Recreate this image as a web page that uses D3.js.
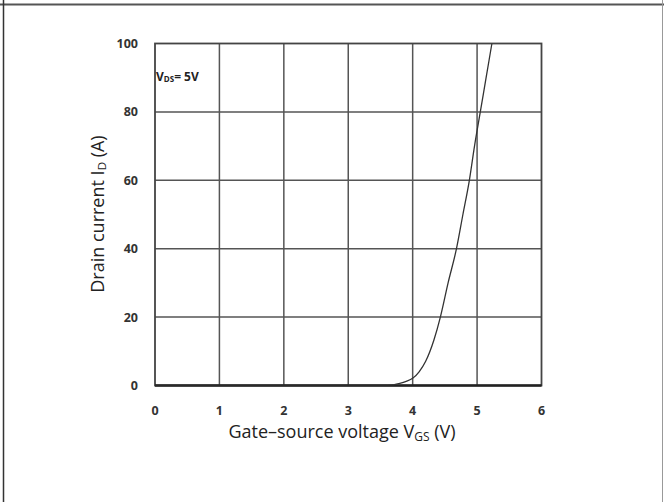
<!DOCTYPE html>
<html>
<head>
<meta charset="utf-8">
<script src="https://cdn.jsdelivr.net/npm/d3@7"></script>
<style>
  body { margin: 0; background: #fff; }
  svg { display: block; }
  text { font-family: "Open Sans", "Noto Sans", sans-serif; }
</style>
</head>
<body>
<div id="chart"></div>
<script>
// transfer characteristic
var vgs = [0, 1, 2, 3, 3.5, 3.6, 3.7, 3.8, 3.9, 4.0, 4.1, 4.2, 4.33, 4.43, 4.55, 4.68, 4.78, 4.88, 4.96, 5.05, 5.14, 5.23];
var idA = [0, 0, 0, 0, 0, 0.05, 0.2, 0.6, 1.2, 2.1, 4.0, 7.0, 13.3, 20, 30, 40, 50, 60, 70, 80, 90, 100];
var xTicks = [0, 1, 2, 3, 4, 5, 6];
var yTicks = [0, 20, 40, 60, 80, 100];

var w = 664, h = 502;
var svg = d3.select("#chart").append("svg").attr("width", w).attr("height", h);

// page frame
svg.append("line").attr("x1", 0).attr("x2", w).attr("y1", 4.5).attr("y2", 4.5)
    .attr("stroke", "#555").attr("stroke-width", 2);
svg.append("line").attr("x1", 3.5).attr("x2", 3.5).attr("y1", 0).attr("y2", h)
    .attr("stroke", "#333").attr("stroke-width", 1.5);
svg.append("line").attr("x1", 662.5).attr("x2", 662.5).attr("y1", 0).attr("y2", h)
    .attr("stroke", "#999").attr("stroke-width", 1);

var x = d3.scaleLinear().domain([0, 6]).range([155, 541.5]);
var y = d3.scaleLinear().domain([0, 100]).range([385.5, 43.5]);

var g = svg.append("g");

// grid
g.selectAll(".vg").data(xTicks.slice(1, -1)).join("line")
    .attr("x1", d => x(d)).attr("x2", d => x(d))
    .attr("y1", y(0)).attr("y2", y(100))
    .attr("stroke", "#555").attr("stroke-width", 1.5);
g.selectAll(".hg").data(yTicks.slice(1, -1)).join("line")
    .attr("x1", x(0)).attr("x2", x(6))
    .attr("y1", d => y(d)).attr("y2", d => y(d))
    .attr("stroke", "#555").attr("stroke-width", 1.5);

// box
g.append("rect").attr("x", x(0)).attr("y", y(100))
    .attr("width", x(6) - x(0)).attr("height", y(0) - y(100))
    .attr("fill", "none").attr("stroke", "#444").attr("stroke-width", 1.8);
g.append("line").attr("x1", x(0)).attr("x2", x(6)).attr("y1", y(0)).attr("y2", y(0))
    .attr("stroke", "#222").attr("stroke-width", 2.5);

// curve
svg.append("clipPath").attr("id", "clip").append("rect")
    .attr("x", x(0)).attr("y", y(100)).attr("width", x(6) - x(0)).attr("height", y(0) - y(100));
var line = d3.line().x((d, i) => x(vgs[i])).y(d => y(d)).curve(d3.curveMonotoneX);
g.append("path").datum(idA).attr("d", line).attr("clip-path", "url(#clip)")
    .attr("fill", "none").attr("stroke", "#333").attr("stroke-width", 1.3);

// tick labels
g.selectAll(".xl").data(xTicks).join("text")
    .attr("x", d => x(d)).attr("y", 415)
    .attr("text-anchor", "middle").attr("font-size", 12.5).attr("font-weight", "bold")
    .attr("fill", "#333").text(d => d);
g.selectAll(".yl").data(yTicks).join("text")
    .attr("x", 138).attr("y", d => y(d) + 4.5)
    .attr("text-anchor", "end").attr("font-size", 12.5).attr("font-weight", "bold")
    .attr("fill", "#333").text(d => d);

// axis titles
var xt = svg.append("text").attr("x", 342).attr("y", 438)
    .attr("text-anchor", "middle").attr("font-size", 18).attr("fill", "#222");
xt.append("tspan").text("Gate\u2013source voltage V");
xt.append("tspan").attr("font-size", 12).attr("dy", 3).text("GS");
xt.append("tspan").attr("dy", -3).text(" (V)");

var yt = svg.append("text").attr("transform", "translate(104,214) rotate(-90)")
    .attr("text-anchor", "middle").attr("font-size", 18).attr("fill", "#222");
yt.append("tspan").text("Drain current I");
yt.append("tspan").attr("font-size", 11.5).attr("dy", 2).text("D");
yt.append("tspan").attr("dy", -2).text(" (A)");

// condition note
var note = svg.append("text").attr("x", 156).attr("y", 81)
    .attr("font-size", 12).attr("font-weight", "bold").attr("fill", "#222");
note.append("tspan").text("V");
note.append("tspan").attr("font-size", 8).attr("dy", 1).text("DS");
note.append("tspan").attr("dy", -1).text("= 5V");
</script>
</body>
</html>
